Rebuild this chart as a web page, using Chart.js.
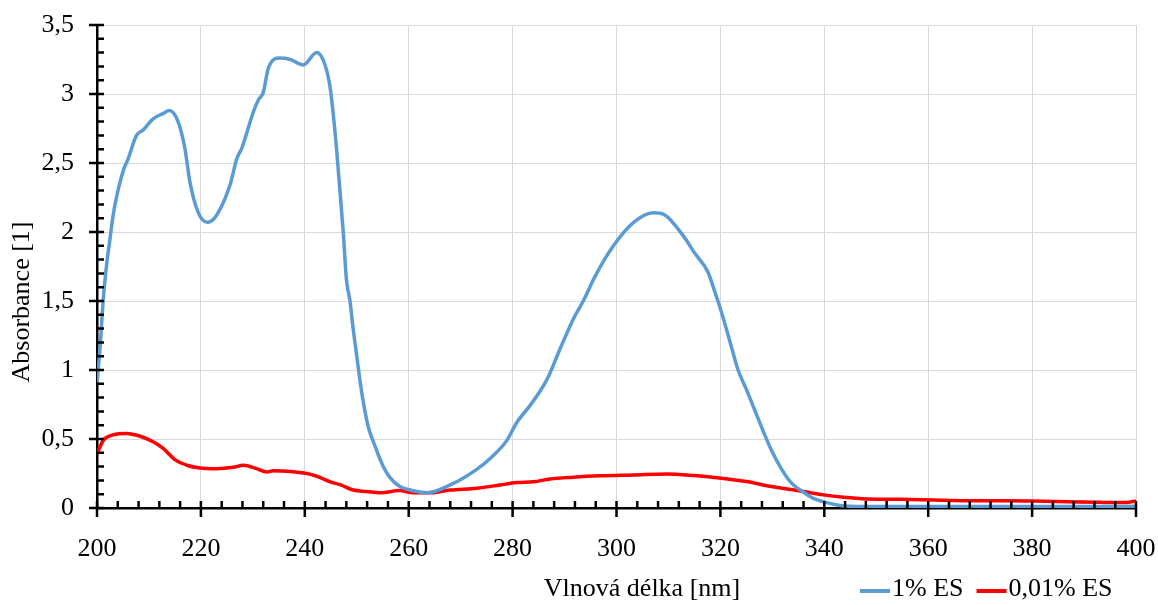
<!DOCTYPE html>
<html>
<head>
<meta charset="utf-8">
<script src="https://cdn.jsdelivr.net/npm/chart.js@4"></script>
<style>
  body { margin: 0; background: #fff; }
  #wrap { width: 1158px; height: 605px; }
</style>
</head>
<body>
<div id="wrap"><canvas id="spectrum" width="1158" height="605"></canvas></div>
<script>
// ===== Spectrum data (wavelength in nm, absorbance) =====
const wl1 = [200, 200.6, 201.2, 201.9, 202.5, 203.1, 204.1, 205.1, 206, 207.6, 208.9, 210.8, 212.8, 213.9,
  215.6, 216.9, 217.9, 219.5, 221.2, 223, 225.6, 226.9, 227.9, 230.1, 231.1, 232, 233, 235.2, 237.2, 239.7,
  242.3, 243.9, 244.9, 246.1, 247.4, 248, 248.7, 249.3, 249.9, 250.6, 251.3, 252.2, 253.5, 255.1, 256.4, 258.3,
  260.3, 263.5, 268, 273.1, 276, 278.9, 280.8, 283.3, 286.6, 289.1, 291.7, 293.6, 295.9, 299.4, 303.3,
  307.1, 309, 312.9, 315, 317.6, 318.9, 320.2, 322.1, 323.4, 325, 326.6, 328.2, 329.8, 331.8, 333.7,
  336.3, 337.9, 339.8, 343.7, 350, 360, 370, 380, 390, 400];
const abs1 = [0.9, 1.17, 1.51, 1.78, 1.95, 2.12, 2.31, 2.45, 2.53, 2.70, 2.74, 2.82, 2.86, 2.88,
  2.80, 2.61, 2.36, 2.14, 2.07, 2.12, 2.34, 2.53, 2.61, 2.87, 2.96, 3.01, 3.19, 3.26, 3.25, 3.21,
  3.30, 3.21, 3.04, 2.61, 2.00, 1.66, 1.50, 1.30, 1.13, 0.93, 0.76, 0.59, 0.45, 0.30, 0.22, 0.155,
  0.13, 0.11, 0.167, 0.28, 0.37, 0.49, 0.62, 0.74, 0.93, 1.15, 1.37, 1.50, 1.68, 1.90, 2.07,
  2.14, 2.13, 1.97, 1.85, 1.71, 1.57, 1.42, 1.17, 1.00, 0.86, 0.71, 0.56, 0.42, 0.28, 0.18,
  0.107, 0.07, 0.046, 0.015, 0.01, 0.01, 0.01, 0.01, 0.01, 0.012];

const wl2 = [200, 201.2, 203.1, 205.7, 208.3, 210.8, 212.8, 215, 217.3, 219.8, 223, 226.2, 228.2, 230.7,
  232.7, 233.9, 237.2, 240.4, 242.3, 244.9, 246.9, 249.3, 251.9, 254.5, 258.3, 260.9, 264.1, 268, 273.1,
  277.6, 280.8, 284, 287.2, 291.7, 296.8, 303.3, 309.7, 315, 320.2, 325.3, 329.2, 334.3, 337.9, 339.8,
  343.7, 348.2, 354.6, 361, 367.5, 373.9, 380.2, 386.7, 393.1, 397.6, 400];
const abs2 = [0.39, 0.49, 0.53, 0.54, 0.52, 0.48, 0.43, 0.35, 0.31, 0.29, 0.285, 0.295, 0.31, 0.285,
  0.26, 0.27, 0.265, 0.25, 0.23, 0.19, 0.167, 0.13, 0.12, 0.11, 0.126, 0.11, 0.11, 0.13, 0.143,
  0.167, 0.184, 0.19, 0.21, 0.223, 0.233, 0.24, 0.247, 0.235, 0.216, 0.19, 0.16, 0.13, 0.107, 0.095,
  0.078, 0.066, 0.063, 0.058, 0.053, 0.053, 0.051, 0.046, 0.041, 0.039, 0.05];

const seriesNames = ["1% ES", "0,01% ES"];
const seriesColors = ["#5b9bd5", "#ff0000"];
const xTitle = "Vlnová délka [nm]";
const yTitle = "Absorbance [1]";

const FONT = "'Liberation Serif', 'Times New Roman', serif";
Chart.defaults.font.family = FONT;
Chart.defaults.font.size = 26;
Chart.defaults.color = "#000";

const toPoints = (xs, ys) => xs.map((x, i) => ({ x: x, y: ys[i] }));

// tick marks crossing the axes, axis titles and the legend row
const axisDecor = {
  id: 'axisDecor',
  afterDraw(chart) {
    const ctx = chart.ctx;
    const a = chart.chartArea;
    const xs = chart.scales.x, ys = chart.scales.y;
    ctx.save();
    ctx.strokeStyle = "#000";
    ctx.lineWidth = 2.5;
    ctx.beginPath();
    for (let i = 0; i <= 35; i++) {
      const py = ys.getPixelForValue(i / 10);
      const major = i % 5 === 0;
      ctx.moveTo(major ? a.left - 8 : a.left, py);
      ctx.lineTo(a.left + 7, py);
    }
    for (let nm = 200; nm <= 400; nm += 4) {
      const px = xs.getPixelForValue(nm);
      const major = nm % 20 === 0;
      ctx.moveTo(px, a.bottom - 7);
      ctx.lineTo(px, major ? a.bottom + 9 : a.bottom);
    }
    ctx.stroke();

    ctx.fillStyle = "#000";
    ctx.font = "26px " + FONT;
    ctx.textBaseline = "middle";

    // y title
    ctx.save();
    ctx.translate(22, 302);
    ctx.rotate(-Math.PI / 2);
    ctx.textAlign = "center";
    ctx.fillText(yTitle, 0, 0);
    ctx.restore();

    // x title
    ctx.textAlign = "center";
    ctx.fillText(xTitle, 642, 589);

    // legend
    ctx.textAlign = "left";
    let lx = 860;
    seriesNames.forEach((name, i) => {
      ctx.strokeStyle = seriesColors[i];
      ctx.lineWidth = 4;
      ctx.beginPath();
      ctx.moveTo(lx, 591);
      ctx.lineTo(lx + 30, 591);
      ctx.stroke();
      ctx.fillText(name, lx + 32, 589);
      lx += 32 + ctx.measureText(name).width + 13;
    });
    ctx.restore();
  }
};

new Chart(document.getElementById('spectrum'), {
  type: 'line',
  data: {
    datasets: [
      { label: seriesNames[0], data: toPoints(wl1, abs1), borderColor: seriesColors[0], borderWidth: 3.5,
        pointRadius: 0, cubicInterpolationMode: 'monotone' },
      { label: seriesNames[1], data: toPoints(wl2, abs2), borderColor: seriesColors[1], borderWidth: 3.5,
        pointRadius: 0, cubicInterpolationMode: 'monotone' }
    ]
  },
  options: {
    responsive: false,
    animation: false,
    layout: { padding: { top: 25, right: 22, left: 0, bottom: 0 } },
    plugins: { legend: { display: false }, tooltip: { enabled: false } },
    scales: {
      x: {
        type: 'linear', min: 200, max: 400,
        ticks: { stepSize: 20, padding: 26 },
        grid: { color: '#d9d9d9', lineWidth: 1, drawTicks: false },
        border: { color: '#000', width: 2.5 },
        afterFit: s => { s.height = 97; s.paddingLeft = 0; s.paddingRight = 0; }
      },
      y: {
        min: 0, max: 3.5,
        ticks: { stepSize: 0.5, padding: 23, callback: v => String(v).replace('.', ',') },
        grid: { color: '#d9d9d9', lineWidth: 1, drawTicks: false },
        border: { color: '#000', width: 2.5 },
        afterFit: s => { s.width = 97; s.paddingTop = 0; s.paddingBottom = 0; }
      }
    }
  },
  plugins: [axisDecor]
});
</script>
</body>
</html>
